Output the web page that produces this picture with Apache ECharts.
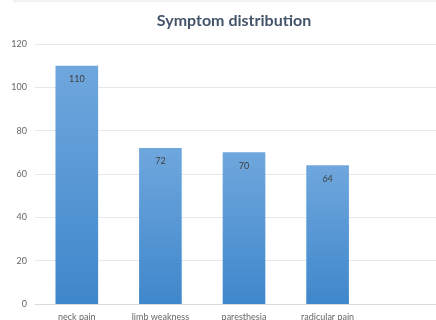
<!DOCTYPE html>
<html>
<head>
<meta charset="utf-8">
<script src="https://cdn.jsdelivr.net/npm/echarts@6/dist/echarts.min.js"></script>
<style>
  html, body { margin: 0; padding: 0; background: #ffffff; }
  #chart { width: 436px; height: 320px; }
</style>
</head>
<body>
<div id="chart"></div>
<script>
// Symptom counts per category
const categories = ['neck pain', 'limb weakness', 'paresthesia', 'radicular pain', ''];
const counts = [110, 72, 70, 64, null];
const yTicks = { min: 0, max: 120, interval: 20 };

const chart = echarts.init(document.getElementById('chart'), null, { renderer: 'canvas' });

chart.setOption({
  animation: false,
  title: {
    text: 'Symptom distribution',
    left: 229,
    top: 8,
    textAlign: 'center',
    textStyle: { fontFamily: 'Lato', fontWeight: 'bold', fontSize: 16, color: '#44546a' }
  },
  graphic: [{
    type: 'line',
    shape: { x1: 13, y1: 1, x2: 436, y2: 1 },
    style: { stroke: '#e3e6ec', lineWidth: 1 }
  }],
  // plot area runs past the right edge of the canvas
  grid: { left: 35, width: 418, top: 44, height: 260, outerBoundsMode: 'none', containLabel: false },
  xAxis: {
    type: 'category',
    data: categories,
    axisLine: { show: true, lineStyle: { color: '#d9d9d9', width: 1 } },
    axisTick: { show: false },
    axisLabel: { color: '#666666', fontFamily: 'Lato', fontSize: 9, margin: 9, interval: 0 }
  },
  yAxis: {
    type: 'value',
    min: yTicks.min,
    max: yTicks.max,
    interval: yTicks.interval,
    axisLine: { show: false },
    axisTick: { show: false },
    axisLabel: { color: '#666666', fontFamily: 'Lato', fontSize: 9, margin: 8 },
    splitLine: { lineStyle: { color: '#e6e8ee', width: 1 } }
  },
  series: [{
    type: 'bar',
    data: counts,
    barWidth: '51%',
    itemStyle: {
      color: new echarts.graphic.LinearGradient(0, 0, 0, 1, [
        { offset: 0, color: '#6fa7dd' },
        { offset: 1, color: '#3f87cb' }
      ])
    },
    label: {
      show: true,
      position: 'insideTop',
      distance: 9,
      color: '#404040',
      fontFamily: 'Lato',
      fontSize: 9
    }
  }]
});
</script>
</body>
</html>
